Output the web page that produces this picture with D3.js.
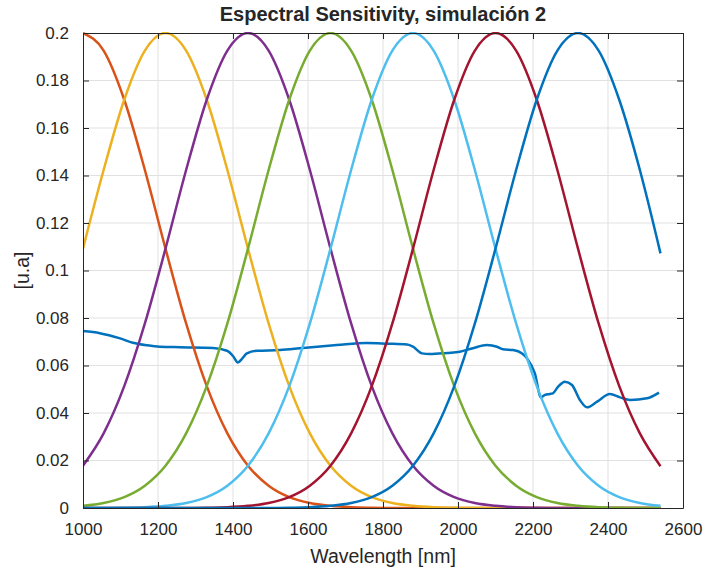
<!DOCTYPE html>
<html>
<head>
<meta charset="utf-8">
<script src="https://cdn.jsdelivr.net/npm/d3@7"></script>
<style>
  body { margin: 0; background: #fff; }
  text { font-family: "Liberation Sans", Arial, Helvetica, sans-serif; fill: #262626; }
</style>
</head>
<body>
<div id="chart"></div>
<script>
// wavelength grid of the sensitivity curves [nm]
var grid = [1000, 1055, 1110, 1165, 1220, 1275, 1330, 1385, 1440, 1495, 1550, 1605, 1660, 1715, 1770,
            1825, 1880, 1935, 1990, 2045, 2100, 2155, 2210, 2265, 2320, 2375, 2430, 2485, 2540];

var sOrange = [0.2, 0.1926, 0.1719, 0.1423, 0.1092, 0.0777, 0.0513, 0.0314, 0.0178, 0.0094, 0.0046, 0.0021, 0.0009, 0.0003, 0.0001,
               0, 0, 0, 0, 0, 0, 0, 0, 0, 0, 0, 0, 0, 0];
var sYellow = [0.1092, 0.1423, 0.1719, 0.1926, 0.2, 0.1926, 0.1719, 0.1423, 0.1092, 0.0777, 0.0513, 0.0314, 0.0178, 0.0094, 0.0046,
               0.0021, 0.0009, 0.0003, 0.0001, 0, 0, 0, 0, 0, 0, 0, 0, 0, 0];
var sPurple = [0.0178, 0.0314, 0.0513, 0.0777, 0.1092, 0.1423, 0.1719, 0.1926, 0.2, 0.1926, 0.1719, 0.1423, 0.1092, 0.0777, 0.0513,
               0.0314, 0.0178, 0.0094, 0.0046, 0.0021, 0.0009, 0.0003, 0.0001, 0, 0, 0, 0, 0, 0];
var sGreen = [0.0009, 0.0021, 0.0046, 0.0094, 0.0178, 0.0314, 0.0513, 0.0777, 0.1092, 0.1423, 0.1719, 0.1926, 0.2, 0.1926, 0.1719,
              0.1423, 0.1092, 0.0777, 0.0513, 0.0314, 0.0178, 0.0094, 0.0046, 0.0021, 0.0009, 0.0003, 0.0001, 0, 0];
var sCyan = [0, 0, 0.0001, 0.0003, 0.0009, 0.0021, 0.0046, 0.0094, 0.0178, 0.0314, 0.0513, 0.0777, 0.1092, 0.1423, 0.1719,
             0.1926, 0.2, 0.1926, 0.1719, 0.1423, 0.1092, 0.0777, 0.0513, 0.0314, 0.0178, 0.0094, 0.0046, 0.0021, 0.0009];
var sRed = [0, 0, 0, 0, 0, 0, 0.0001, 0.0003, 0.0009, 0.0021, 0.0046, 0.0094, 0.0178, 0.0314, 0.0513,
            0.0777, 0.1092, 0.1423, 0.1719, 0.1926, 0.2, 0.1926, 0.1719, 0.1423, 0.1092, 0.0777, 0.0513, 0.0314, 0.0176];
var sBlue = [0, 0, 0, 0, 0, 0, 0, 0, 0, 0, 0.0001, 0.0003, 0.0009, 0.0021, 0.0046,
             0.0094, 0.0178, 0.0314, 0.0513, 0.0777, 0.1092, 0.1423, 0.1719, 0.1926, 0.2, 0.1926, 0.1719, 0.1423, 0.1072];

// measured spectrum (scaled)
var specX = [1000, 1045, 1099, 1133, 1171, 1205, 1259, 1347, 1384, 1400, 1413, 1425, 1437, 1464, 1525, 1587, 1677, 1757,
             1811, 1864, 1880, 1904, 1925, 1971, 2005, 2040, 2077, 2104, 2120, 2147, 2171, 2184, 2205, 2221, 2232,
             2245, 2253, 2267, 2285, 2304, 2325, 2344, 2371, 2405, 2432, 2459, 2504, 2536];
var specY = [0.0745, 0.0736, 0.0714, 0.0696, 0.0685, 0.0679, 0.0677, 0.0674, 0.0662, 0.0640, 0.0613, 0.0630, 0.0651, 0.0662,
             0.0665, 0.0674, 0.0686, 0.0695, 0.0692, 0.0688, 0.0679, 0.0651, 0.0648, 0.0653, 0.0658, 0.0673, 0.0686, 0.0679,
             0.0668, 0.0665, 0.0651, 0.0630, 0.0567, 0.0466, 0.0476, 0.0480, 0.0483, 0.0511, 0.0532, 0.0518, 0.0455, 0.0424,
             0.0448, 0.0480, 0.0466, 0.0455, 0.0462, 0.0486];

var xTicks = [1000, 1200, 1400, 1600, 1800, 2000, 2200, 2400, 2600];
var yTicks = [0, 0.02, 0.04, 0.06, 0.08, 0.1, 0.12, 0.14, 0.16, 0.18, 0.2];
var yTickLabels = ["0", "0.02", "0.04", "0.06", "0.08", "0.1", "0.12", "0.14", "0.16", "0.18", "0.2"];

var W = 704, H = 569;
var margin = { top: 33, right: 21, bottom: 61, left: 83 },
    width = W - margin.left - margin.right,
    height = H - margin.top - margin.bottom;

var x = d3.scaleLinear().domain([1000, 2600]).range([0, width]);
var y = d3.scaleLinear().domain([0, 0.2]).range([height, 0]);

var svg = d3.select("#chart").append("svg")
    .attr("width", W)
    .attr("height", H);

var g = svg.append("g")
    .attr("transform", "translate(" + margin.left + "," + margin.top + ")");

// grid
g.append("g").selectAll("line.gx")
    .data(xTicks.slice(1, -1))
    .enter().append("line")
    .attr("x1", function (d) { return x(d); })
    .attr("x2", function (d) { return x(d); })
    .attr("y1", 0).attr("y2", height)
    .attr("stroke", "#e1e1e1").attr("stroke-width", 1);

g.append("g").selectAll("line.gy")
    .data(yTicks.slice(1, -1))
    .enter().append("line")
    .attr("y1", function (d) { return y(d); })
    .attr("y2", function (d) { return y(d); })
    .attr("x1", 0).attr("x2", width)
    .attr("stroke", "#e1e1e1").attr("stroke-width", 1);

svg.append("defs").append("clipPath").attr("id", "clip")
    .append("rect").attr("x", 0).attr("y", -1).attr("width", width).attr("height", height + 2);

var plot = g.append("g").attr("clip-path", "url(#clip)");

var line = d3.line()
    .x(function (d) { return x(d[0]); })
    .y(function (d) { return y(d[1]); })
    .curve(d3.curveMonotoneX);

function zip(xs, ys) {
    return xs.map(function (v, i) { return [v, ys[i]]; });
}

var series = [
    { values: zip(specX, specY), color: "#0072BD" },
    { values: zip(grid, sOrange), color: "#D95319" },
    { values: zip(grid, sYellow), color: "#EDB120" },
    { values: zip(grid, sPurple), color: "#7E2F8E" },
    { values: zip(grid, sGreen), color: "#77AC30" },
    { values: zip(grid, sCyan), color: "#4DBEEE" },
    { values: zip(grid, sRed), color: "#A2142F" },
    { values: zip(grid, sBlue), color: "#0072BD" }
];

plot.selectAll("path.line")
    .data(series)
    .enter().append("path")
    .attr("class", "line")
    .attr("d", function (d) { return line(d.values); })
    .attr("fill", "none")
    .attr("stroke", function (d) { return d.color; })
    .attr("stroke-width", 2.5)
    .attr("stroke-linejoin", "round");

// axes box with inward ticks on all sides
var tickLen = 6;
var axisColor = "#262626";

var xAxisB = d3.axisBottom(x).tickValues(xTicks).tickSizeInner(-tickLen).tickSizeOuter(0)
    .tickPadding(tickLen + 9).tickFormat(d3.format("d"));
var xAxisT = d3.axisTop(x).tickValues(xTicks).tickSizeInner(-tickLen).tickSizeOuter(0).tickFormat("");
var yAxisL = d3.axisLeft(y).tickValues(yTicks).tickSizeInner(-tickLen).tickSizeOuter(0)
    .tickPadding(tickLen + 8).tickFormat(function (d, i) { return yTickLabels[i]; });
var yAxisR = d3.axisRight(y).tickValues(yTicks).tickSizeInner(-tickLen).tickSizeOuter(0).tickFormat("");

g.append("g").attr("transform", "translate(0," + height + ")").call(xAxisB);
g.append("g").call(xAxisT);
g.append("g").call(yAxisL);
g.append("g").attr("transform", "translate(" + width + ",0)").call(yAxisR);

g.selectAll(".domain").attr("stroke", axisColor).attr("stroke-width", 1);
g.selectAll(".tick line").attr("stroke", axisColor).attr("stroke-width", 1);
g.selectAll(".tick text")
    .style("font-family", "'Liberation Sans', Arial, sans-serif")
    .style("font-size", "17px")
    .attr("fill", axisColor);

// title and labels
svg.append("text")
    .attr("x", margin.left + width / 2)
    .attr("y", 21)
    .attr("text-anchor", "middle")
    .style("font-size", "20px")
    .style("font-weight", "bold")
    .attr("fill", "#000")
    .text("Espectral Sensitivity, simulación 2");

svg.append("text")
    .attr("x", margin.left + width / 2)
    .attr("y", 563)
    .attr("text-anchor", "middle")
    .style("font-size", "19.5px")
    .text("Wavelength [nm]");

svg.append("text")
    .attr("transform", "translate(29," + (margin.top + height / 2) + ") rotate(-90)")
    .attr("text-anchor", "middle")
    .style("font-size", "19.5px")
    .text("[u.a]");
</script>
</body>
</html>
